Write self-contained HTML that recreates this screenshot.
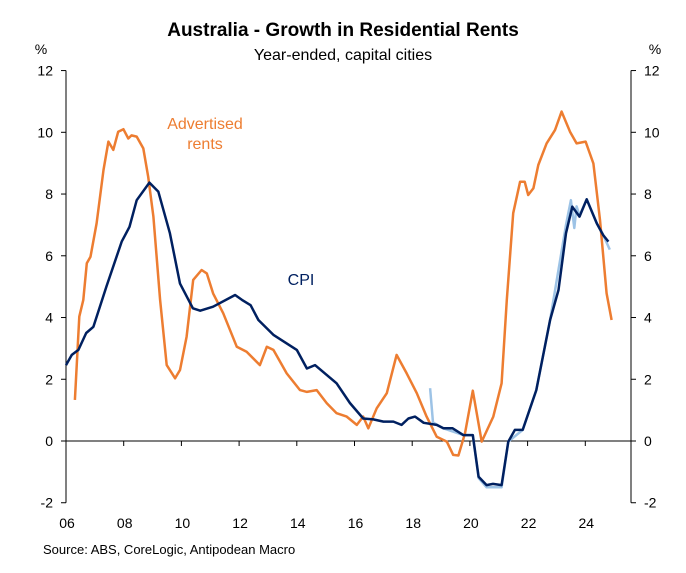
<!DOCTYPE html>
<html><head><meta charset="utf-8"><style>
body{margin:0;background:#fff;}
svg text{font-family:"Liberation Sans",Arial,sans-serif;}
</style></head><body>
<svg id="chart" width="686" height="568" xmlns="http://www.w3.org/2000/svg">
<text x="343" y="36" text-anchor="middle" font-size="19" font-weight="bold" fill="#000">Australia - Growth in Residential Rents</text>
<text x="343" y="60" text-anchor="middle" font-size="16" fill="#000">Year-ended, capital cities</text>
<text x="41" y="54" text-anchor="middle" font-size="14">%</text>
<text x="655" y="54" text-anchor="middle" font-size="14">%</text>
<text x="43" y="554" font-size="13">Source: ABS, CoreLogic, Antipodean Macro</text>
<text x="205" y="129" text-anchor="middle" font-size="16" fill="#ED7D31">Advertised</text>
<text x="205" y="149" text-anchor="middle" font-size="16" fill="#ED7D31">rents</text>
<text x="301" y="285" text-anchor="middle" font-size="16" fill="#002060">CPI</text>
<g id="axes"></g>
<g id="series"></g>
</svg>
<script>
const yTicks=[-2,0,2,4,6,8,10,12];
const xTickLabels=["06","08","10","12","14","16","18","20","22","24"];
const cpiYears=[2006.0,2006.2,2006.43,2006.7,2006.95,2007.4,2007.93,2008.2,2008.45,2008.89,2009.2,2009.6,2009.95,2010.4,2010.65,2011.1,2011.86,2012.1,2012.4,2012.67,2013.2,2014.0,2014.35,2014.63,2015.38,2015.84,2016.3,2016.65,2017.0,2017.35,2017.63,2017.87,2018.1,2018.4,2018.85,2019.08,2019.4,2019.77,2020.1,2020.3,2020.58,2020.8,2021.1,2021.33,2021.56,2021.83,2022.3,2022.78,2023.07,2023.33,2023.55,2023.8,2024.05,2024.4,2024.62,2024.8];
const cpiValues=[2.46,2.79,2.95,3.5,3.7,5.0,6.46,6.94,7.8,8.37,8.08,6.73,5.1,4.3,4.22,4.35,4.73,4.57,4.4,3.92,3.43,2.95,2.35,2.46,1.87,1.23,0.73,0.70,0.63,0.63,0.52,0.73,0.79,0.59,0.52,0.41,0.41,0.19,0.19,-1.16,-1.43,-1.39,-1.43,-0.02,0.36,0.36,1.65,3.92,4.89,6.73,7.59,7.27,7.83,7.05,6.67,6.46];
const altYears=[2018.62,2018.72,2019.08,2019.77,2020.1,2020.3,2020.58,2021.1,2021.33,2021.83,2022.3,2022.78,2023.33,2023.5,2023.62,2023.7,2023.8,2024.05,2024.4,2024.62,2024.85];
const altValues=[1.71,0.6,0.41,0.19,0.19,-1.2,-1.5,-1.5,-0.02,0.36,1.65,3.92,7.0,7.8,6.9,7.6,7.3,7.83,7.05,6.67,6.2];
const rentYears=[2006.31,2006.46,2006.6,2006.72,2006.85,2007.06,2007.3,2007.47,2007.64,2007.81,2007.99,2008.16,2008.27,2008.45,2008.68,2008.85,2009.03,2009.26,2009.49,2009.78,2009.95,2010.18,2010.41,2010.7,2010.88,2011.1,2011.45,2011.92,2012.26,2012.72,2012.96,2013.19,2013.65,2014.11,2014.35,2014.69,2015.04,2015.38,2015.73,2016.08,2016.3,2016.48,2016.77,2017.12,2017.46,2017.81,2018.16,2018.5,2018.85,2019.2,2019.42,2019.6,2019.83,2020.1,2020.41,2020.81,2021.1,2021.28,2021.5,2021.74,2021.9,2022.02,2022.2,2022.37,2022.66,2022.95,2023.18,2023.47,2023.7,2024.01,2024.28,2024.51,2024.74,2024.91];
const rentValues=[1.33,4.03,4.57,5.76,5.97,7.05,8.78,9.7,9.43,10.02,10.1,9.8,9.9,9.86,9.48,8.56,7.27,4.57,2.46,2.03,2.3,3.38,5.22,5.54,5.43,4.78,4.14,3.05,2.89,2.46,3.05,2.95,2.19,1.65,1.59,1.65,1.22,0.9,0.79,0.52,0.79,0.41,1.06,1.55,2.79,2.19,1.55,0.79,0.14,-0.02,-0.45,-0.47,0.25,1.63,-0.02,0.79,1.87,4.57,7.38,8.4,8.4,7.97,8.19,8.94,9.64,10.07,10.67,10.02,9.64,9.7,8.99,7.16,4.78,3.92];
const L=66,R=631,x0=2006,pxYr=28.85;
function xs(y){return L+(y-x0)*pxYr;}
function ys(v){return 441-v*30.87;}
const NS="http://www.w3.org/2000/svg";
const axes=document.getElementById('axes'),ser=document.getElementById('series');
function mk(tag,attrs,parent){const e=document.createElementNS(NS,tag);for(const k in attrs)e.setAttribute(k,attrs[k]);parent.appendChild(e);return e;}
let e;
e=mk('line',{x1:L,y1:ys(12),x2:L,y2:ys(-2),stroke:'#000','stroke-width':1},axes);


e=mk('line',{x1:R,y1:ys(12),x2:R,y2:ys(-2),stroke:'#000','stroke-width':1},axes);


e=mk('line',{x1:L,y1:ys(0),x2:R,y2:ys(0),stroke:'#000','stroke-width':1},axes);


yTicks.forEach(t=>{
 const y=ys(t);
 e=mk('line',{x1:L-5,y1:y,x2:L,y2:y,stroke:'#000'},axes);
 
 
 e=mk('line',{x1:R,y1:y,x2:R+5,y2:y,stroke:'#000'},axes);
 
 
 e=mk('text',{x:53,y:y+5,'text-anchor':'end','font-size':14},axes);e.textContent=t;
 
 
 e=mk('text',{x:644,y:y+5,'text-anchor':'start','font-size':14},axes);e.textContent=t;
 
 
});
xTickLabels.forEach((lab,i)=>{
 const x=xs(2006+i*2);
 e=mk('line',{x1:x,y1:ys(0),x2:x,y2:ys(0)+5,stroke:'#000'},axes);
 
 
 e=mk('text',{x:x+1,y:528,'text-anchor':'middle','font-size':14},axes);e.textContent=lab;
 
 
});
function pts(X,V){return X.map((x,i)=>xs(x).toFixed(1)+','+ys(V[i]).toFixed(1)).join(' ');}
e=mk('polyline',{points:pts(altYears,altValues),fill:'none',stroke:'#9DC3E6','stroke-width':2.5,'stroke-linejoin':'round'},ser);


e=mk('polyline',{points:pts(rentYears,rentValues),fill:'none',stroke:'#ED7D31','stroke-width':2.5,'stroke-linejoin':'round'},ser);


e=mk('polyline',{points:pts(cpiYears,cpiValues),fill:'none',stroke:'#002060','stroke-width':2.5,'stroke-linejoin':'round'},ser);


</script>
</body></html>
